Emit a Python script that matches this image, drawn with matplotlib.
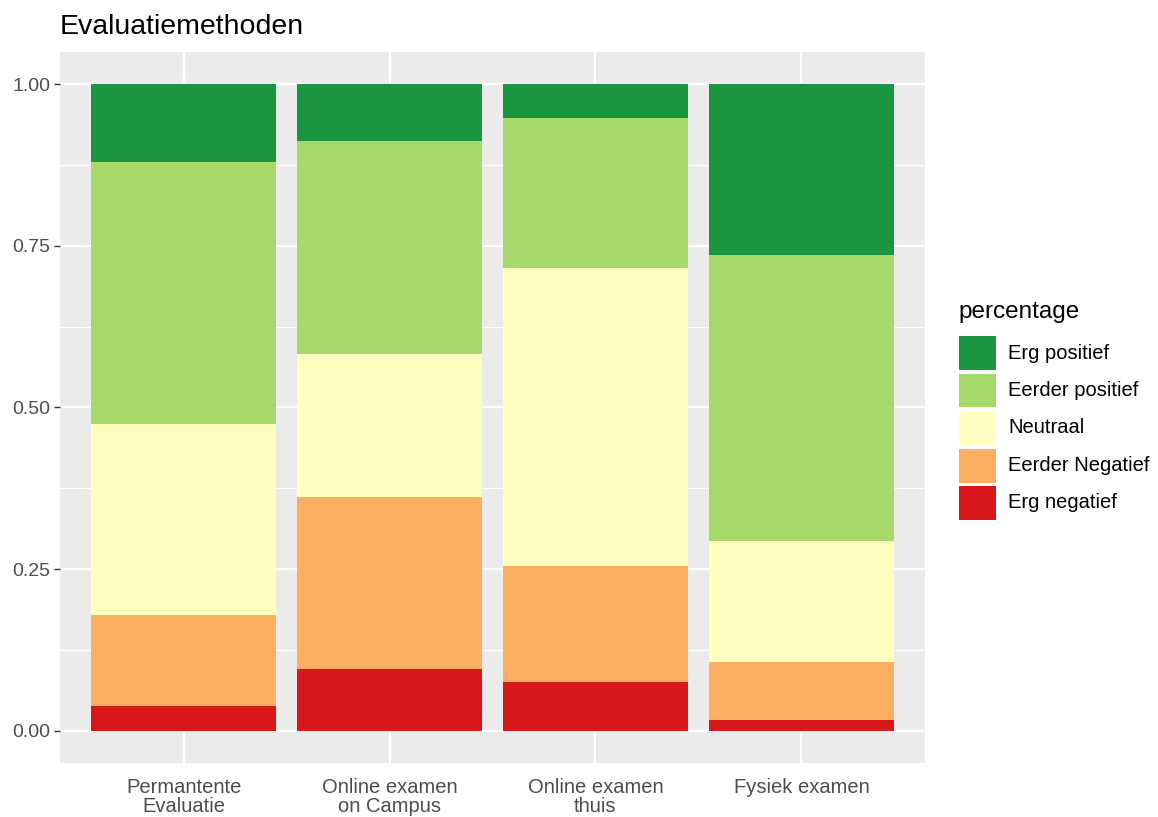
import numpy as np
import matplotlib.pyplot as plt
from matplotlib.patches import Rectangle

# categorieen en aandelen (per balk telt het op tot 1)
methoden = ["Permantente\nEvaluatie", "Online examen\non Campus",
            "Online examen\nthuis", "Fysiek examen"]
niveaus = ["Erg negatief", "Eerder Negatief", "Neutraal",
           "Eerder positief", "Erg positief"]

erg_negatief = [0.038, 0.096, 0.076, 0.016]
eerder_negatief = [0.141, 0.265, 0.179, 0.090]
neutraal = [0.296, 0.221, 0.461, 0.188]
eerder_positief = [0.405, 0.330, 0.232, 0.442]
erg_positief = [0.120, 0.088, 0.052, 0.264]

kleuren = ["#d7191c", "#fdae61", "#ffffbf", "#a6d96a", "#1a9641"]

plt.rcParams['font.family'] = ['Liberation Sans', 'DejaVu Sans']

W, H = 1158, 817
fig = plt.figure(figsize=(W/100, H/100), dpi=100)
ax = fig.add_axes([60/W, 1 - 763/H, 865/W, (763 - 52)/H])
ax.set_facecolor("#ebebeb")

x = np.arange(1, len(methoden) + 1)
onder = np.zeros(len(methoden))
reeksen = [erg_negatief, eerder_negatief, neutraal, eerder_positief, erg_positief]
for waarden, kleur in zip(reeksen, kleuren):
    ax.bar(x, waarden, bottom=onder, width=0.9, color=kleur, zorder=3)
    onder = onder + np.array(waarden)

ax.set_xlim(0.4, 4.6)
ax.set_ylim(-0.05, 1.05)
ax.set_yticks([0, 0.25, 0.5, 0.75, 1.0])
ax.set_yticklabels(["0.00", "0.25", "0.50", "0.75", "1.00"])
ax.set_yticks([0.125, 0.375, 0.625, 0.875], minor=True)
ax.set_xticks(x)
ax.set_xticklabels(methoden, linespacing=1.0)

ax.grid(which='major', color='white', linewidth=1.6, zorder=0)
ax.grid(which='minor', axis='y', color='white', linewidth=0.8, zorder=0)
ax.set_axisbelow(True)
for s in ax.spines.values():
    s.set_visible(False)

ax.tick_params(axis='y', which='major', length=4, width=1, color='#333333',
               labelsize=14, labelcolor='#4d4d4d', pad=3)
ax.tick_params(axis='y', which='minor', length=0)
ax.tick_params(axis='x', length=0, labelsize=14.5, labelcolor='#4d4d4d', pad=11)

fig.text(60/W, 1 - 27/H, "Evaluatiemethoden", fontsize=20.5,
         va='center', ha='left', color='black')

# legenda, zoals ggplot hem tekent
fig.text(958/W, 1 - 312/H, "percentage", fontsize=17.5, va='center', ha='left')
for i, (label, kleur) in enumerate(zip(niveaus[::-1], kleuren[::-1])):
    top = 336 + i * 37.5
    fig.add_artist(Rectangle((959/W, 1 - (top + 34)/H), 37/W, 34/H,
                             transform=fig.transFigure, facecolor=kleur,
                             edgecolor='none'))
    fig.text(1008/W, 1 - (top + 17)/H, label, fontsize=14.5,
             va='center', ha='left', color='black')

fig.savefig("out.png", dpi=100)
